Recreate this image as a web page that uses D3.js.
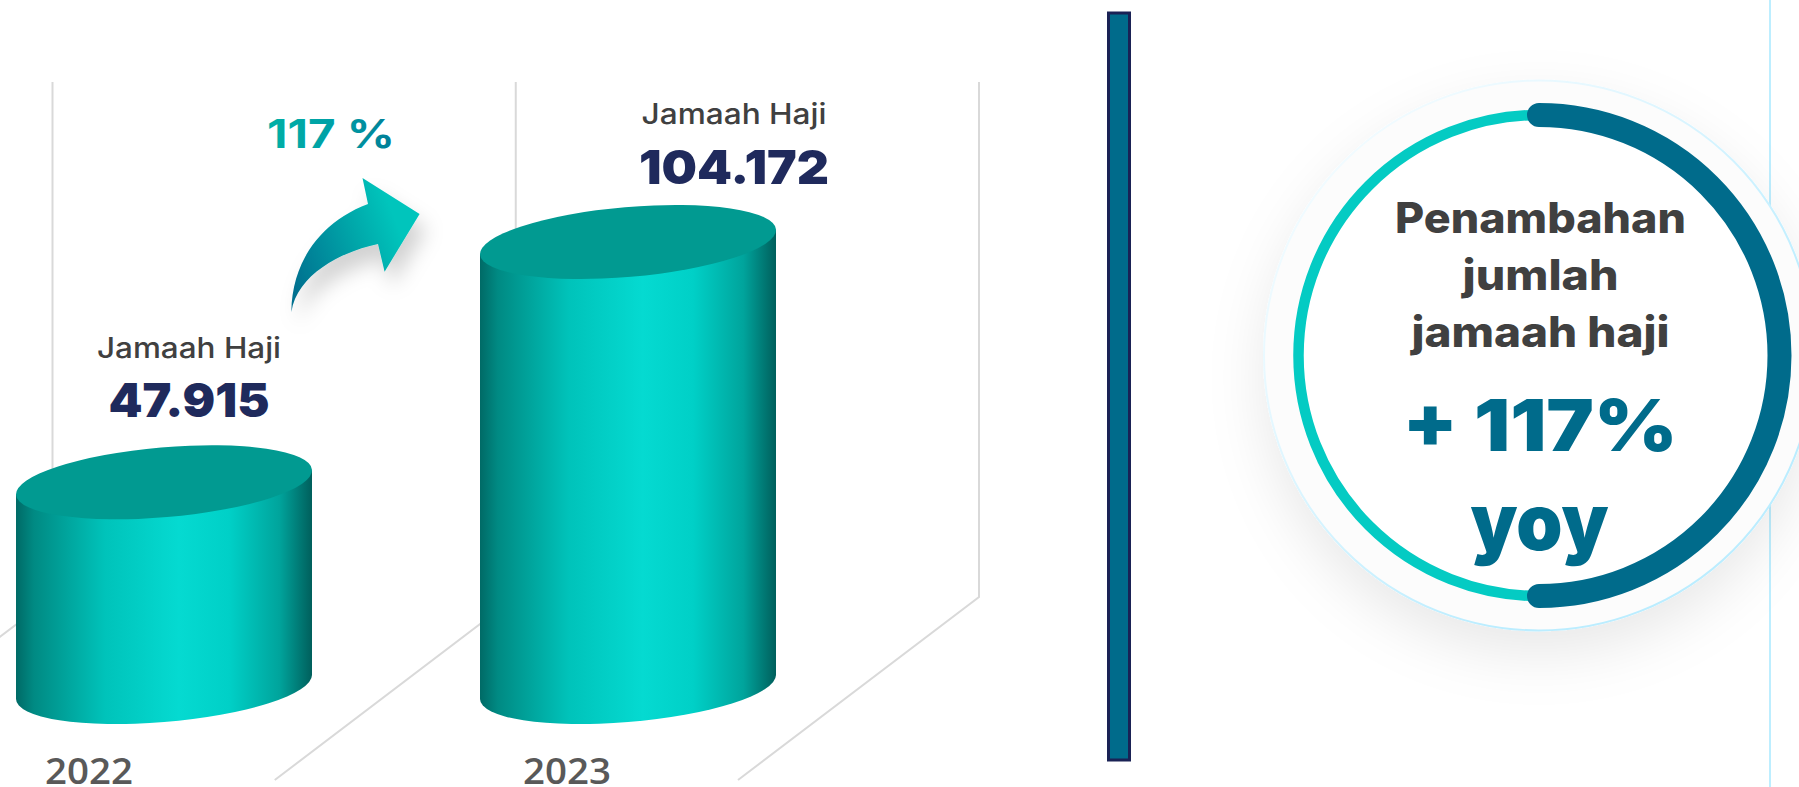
<!DOCTYPE html>
<html><head><meta charset="utf-8">
<script src="https://cdn.jsdelivr.net/npm/d3@7"></script>
<style>html,body{margin:0;padding:0;background:#fff;overflow:hidden}svg{display:block}text{font-family:Inter,sans-serif}</style>
</head><body><svg id="c" width="1799" height="787"></svg>
<script>
const years = ["2022","2023"];
const pilgrims = [47915,104172];
const valueLabels = ["47.915","104.172"];
const seriesLabel = "Jamaah Haji";
const growthLabel = "117 %";
const calloutLines = ["Penambahan","jumlah","jamaah haji"];
const calloutValue = ["+ 117%","yoy"];
const ringShare = [0.5,0.5];

const svg = d3.select("#c");
const defs = svg.append("defs");
function grad(id,x1,y1,x2,y2,stops){
  const g=defs.append("linearGradient").attr("id",id).attr("x1",x1).attr("y1",y1).attr("x2",x2).attr("y2",y2);
  stops.forEach(s=>g.append("stop").attr("offset",s[0]).attr("stop-color",s[1]));
}
grad("side",0,0,1,0,[[0,"#006a66"],[.06,"#008a83"],[.3,"#00c3ba"],[.55,"#05dad1"],[.72,"#00d0c7"],[.89,"#00a49c"],[1,"#005f5c"]]);
grad("arrow",0,0.75,1,0.35,[[0,"#00708f"],[.55,"#00a8aa"],[.85,"#00c5bc"],[1,"#00c5bc"]]);
grad("txt",0,0,1,0,[[0,"#00b0a6"],[.55,"#009fa6"],[1,"#007c96"]]);
grad("halo",0,0,1,1,[[0,"#fbfeff"],[.3,"#e6f8ff"],[.7,"#bbedff"],[1,"#bbedff"]]);
const f1=defs.append("filter").attr("id","sh1").attr("x","-40%").attr("y","-40%").attr("width","180%").attr("height","190%");
f1.append("feDropShadow").attr("dx",0).attr("dy",22).attr("stdDeviation",28).attr("flood-color","#000").attr("flood-opacity",.09);
const f2=defs.append("filter").attr("id","sh2").attr("x","-40%").attr("y","-40%").attr("width","200%").attr("height","200%");
f2.append("feDropShadow").attr("dx",7).attr("dy",15).attr("stdDeviation",10).attr("flood-color","#000").attr("flood-opacity",.18);

const x = d3.scaleLinear().domain([0,1]).range([164,628]);
const y = d3.scaleLinear().domain([0,104172]).range([687,242]);
const wallX = d3.scaleLinear().domain([0,2]).range([52.5,979]);

// 3D grid walls
[0,1,2].forEach(i=>{
  const gx=wallX(i);
  svg.append("path").attr("d",d3.line()([[gx,82],[gx,597],[gx-241,780]]))
    .attr("fill","none").attr("stroke","#d9d9d9").attr("stroke-width",2);
});

// cylinders
const rx=148.5, ry=34.9, tilt=-4.9, hw=148, tan=12;
const cyl = svg.selectAll("g.cyl").data(pilgrims).join("g").attr("class","cyl");
cyl.append("path").attr("fill","url(#side)").attr("d",(d,i)=>{
  const cx=x(i), t=y(d), b=y(0);
  return `M${cx-hw},${t+tan}L${cx-hw},${b+tan}A${rx},${ry} ${tilt} 0 0 ${cx+hw},${b-tan}L${cx+hw},${t-tan}Z`;
});
cyl.append("ellipse").attr("cx",(d,i)=>x(i)).attr("cy",d=>y(d)).attr("rx",rx).attr("ry",ry)
  .attr("transform",(d,i)=>`rotate(${tilt} ${x(i)} ${y(d)})`).attr("fill","#019a91");

// labels
function label(s,px,py,size,weight,fill,len,anchor){
  const t=svg.append("text").attr("x",px).attr("y",py).attr("font-size",size).attr("font-weight",weight)
    .attr("fill",fill).attr("text-anchor",anchor||"middle").text(s);
  if(len) t.attr("textLength",len).attr("lengthAdjust","spacingAndGlyphs");
  return t;
}
const labelShift=[25,106], nameRise=[124,118], valueRise=[65,58];
years.forEach((yr,i)=>{
  const top=y(pilgrims[i]);
  label(seriesLabel,x(i)+labelShift[i],top-nameRise[i],28,500,"#404040",[184,185][i]);
  label(valueLabels[i],x(i)+labelShift[i],top-valueRise[i],47,900,"#1f2a5c",[161,190][i]);
  label(yr,[89,567][i],784,36,600,"#595959",88).style("font-family","'Open Sans'");
});
label(growthLabel,267,148,40,700,"url(#txt)",128,"start");

// arrow
const ap=d3.path();
ap.moveTo(291.4,312);
ap.bezierCurveTo(292,262,320,222,368,204);
ap.lineTo(362.5,178);ap.lineTo(419.6,214);ap.lineTo(384.6,271.7);ap.lineTo(378,244);
ap.bezierCurveTo(340,252,297,275,291.4,312);ap.closePath();
svg.append("path").attr("d",ap.toString()).attr("fill","url(#arrow)").attr("filter","url(#sh2)");

// divider
svg.append("rect").attr("x",1108.5).attr("y",13).attr("width",21).attr("height",747)
  .attr("fill","#006b8b").attr("stroke","#1a2255").attr("stroke-width",3);

// right side line + circle
svg.append("line").attr("x1",1770).attr("x2",1770).attr("y1",0).attr("y2",787).attr("stroke","#bdeeff").attr("stroke-width",2);
const cx=1539, cy=355.5;
svg.append("circle").attr("cx",cx).attr("cy",cy).attr("r",275).attr("fill","#fcfcfc").attr("stroke","url(#halo)").attr("stroke-width",2).attr("filter","url(#sh1)");
svg.append("circle").attr("cx",cx).attr("cy",cy).attr("r",240).attr("fill","#fff");
const ring=svg.append("g").attr("transform",`translate(${cx},${cy})`);
const pie=d3.pie().sort(null)(ringShare);
const openArc=(p,r)=>{const q=d3.path();q.arc(0,0,r,p.startAngle-Math.PI/2,p.endAngle-Math.PI/2);return q.toString();};
ring.append("path").attr("d",openArc(pie[1],240.5)).attr("fill","none").attr("stroke","#04cbc3").attr("stroke-width",10.5);
ring.append("path").attr("d",openArc(pie[0],240.5)).attr("fill","none").attr("stroke","#006b8b").attr("stroke-width",24).attr("stroke-linecap","round");

// callout text
calloutLines.forEach((s,i)=>label(s,1540.5,[233,290,347][i],42,800,"#404040",[291,156,258][i]));
label(calloutValue[0],1540,451,72,900,"#006b8b",275);
label(calloutValue[1],1539.5,550,78,900,"#006b8b",138);
</script></body></html>
